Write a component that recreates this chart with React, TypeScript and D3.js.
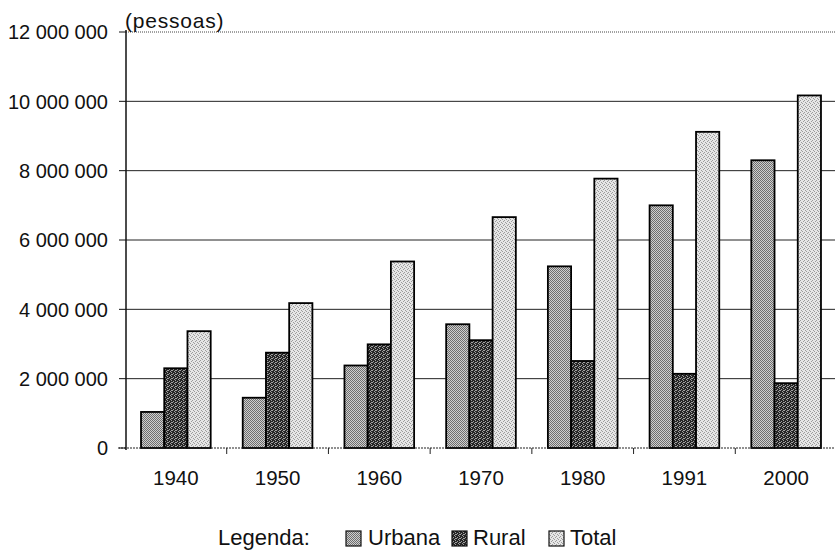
import React from "react";
import * as d3 from "d3";

const years = ["1940", "1950", "1960", "1970", "1980", "1991", "2000"];
const series = ["Urbana", "Rural", "Total"];
const urbana = [1040000, 1450000, 2380000, 3570000, 5240000, 7000000, 8300000];
const rural = [2300000, 2750000, 2990000, 3110000, 2510000, 2140000, 1870000];
const total = [3370000, 4180000, 5380000, 6660000, 7770000, 9120000, 10170000];
const yTicks = [0, 2000000, 4000000, 6000000, 8000000, 10000000, 12000000];

const W = 835;
const H = 551;
const FONT = "'Liberation Sans', Arial, Helvetica, sans-serif";

const fmt = (v: number) =>
  v === 0 ? "0" : d3.format(",")(v).replace(/,/g, " ");

// dot layouts for the dithered fills (4x4 cells)
const dotsU = [[0, 0], [2, 0], [1, 1], [3, 1], [0, 2], [2, 2], [1, 3], [3, 3]];
const dotsR = [[0, 0], [1, 0], [2, 0], [0, 1], [2, 1], [3, 1], [1, 2], [2, 2], [0, 3], [3, 3], [1, 3]];
const dotsT = [[0, 0], [3, 1], [1, 2], [2, 3]];

export default function App() {
  const x = d3.scaleBand<string>().domain(years).range([125, 837]).padding(0);
  const xs = d3
    .scaleBand<string>()
    .domain(series)
    .range([0, x.bandwidth()])
    .paddingInner(0)
    .paddingOuter(0.69);
  const y = d3.scaleLinear().domain([0, 12000000]).range([448, 32]);
  const values: Record<string, number[]> = {
    Urbana: urbana,
    Rural: rural,
    Total: total,
  };
  const fills: Record<string, string> = {
    Urbana: "url(#pU)",
    Rural: "url(#pR)",
    Total: "url(#pT)",
  };

  const legendItems = [
    { key: "Urbana", sq: 346, tx: 368 },
    { key: "Rural", sq: 452, tx: 473 },
    { key: "Total", sq: 549, tx: 570 },
  ];

  const pat = (id: string, bg: string, fg: string, dots: number[][]) => (
    <pattern id={id} width="4" height="4" patternUnits="userSpaceOnUse">
      <rect width="4" height="4" fill={bg} />
      {dots.map(([dx, dy], k) => (
        <rect key={k} x={dx} y={dy} width="1" height="1" fill={fg} />
      ))}
    </pattern>
  );

  return (
    <div style={{ position: "absolute", left: 0, top: 0 }}>
      <svg width={W} height={H} style={{ display: "block", background: "#fff" }}>
        <defs>
          {pat("pU", "#cfcfcf", "#6e6e6e", dotsU)}
          {pat("pR", "#a0a0a0", "#262626", dotsR)}
          {pat("pT", "#e6e6e6", "#9c9c9c", dotsT)}
        </defs>

        {/* gridlines */}
        {yTicks.slice(1).map((t) => (
          <line
            key={"g" + t}
            x1={126}
            x2={W}
            y1={y(t)}
            y2={y(t)}
            stroke={t === 12000000 ? "#444" : "#222"}
            strokeWidth={1}
            strokeDasharray={t === 12000000 ? "1 1" : undefined}
          />
        ))}

        {/* bars */}
        {years.map((yr, i) => (
          <g key={yr}>
            {series.map((s) => {
              const v = values[s][i];
              const bx = (x(yr) as number) + (xs(s) as number);
              return (
                <rect
                  key={s}
                  x={bx}
                  y={y(v)}
                  width={xs.bandwidth()}
                  height={y(0) - y(v)}
                  fill={fills[s]}
                  stroke="#000"
                  strokeWidth={1.8}
                />
              );
            })}
          </g>
        ))}

        {/* x axis */}
        <line x1={118} x2={W} y1={y(0)} y2={y(0)} stroke="#222" strokeWidth={1.2} strokeDasharray="2 1" />
        {years.slice(1).map((yr) => (
          <line
            key={"xt" + yr}
            x1={x(yr) as number}
            x2={x(yr) as number}
            y1={y(0)}
            y2={y(0) + 6}
            stroke="#222"
            strokeWidth={1}
          />
        ))}
        {years.map((yr) => (
          <text
            key={"xl" + yr}
            x={(x(yr) as number) + x.bandwidth() / 2}
            y={485}
            textAnchor="middle"
            fontFamily={FONT}
            fontSize={20.5}
            fill="#111"
          >
            {yr}
          </text>
        ))}

        {/* y axis */}
        <line x1={126} x2={126} y1={y(12000000) - 2} y2={y(0) + 2} stroke="#111" strokeWidth={1.5} />
        {yTicks.map((t) => (
          <g key={"yt" + t}>
            <line x1={119} x2={126} y1={y(t)} y2={y(t)} stroke="#111" strokeWidth={1} />
            <text
              x={108}
              y={y(t)}
              dy="0.36em"
              textAnchor="end"
              fontFamily={FONT}
              fontSize={20}
              fill="#111"
            >
              {fmt(t)}
            </text>
          </g>
        ))}
        <text x={125} y={28} fontFamily={FONT} fontSize={21} letterSpacing={0.8} fill="#111">
          (pessoas)
        </text>

        {/* legend */}
        <text x={218} y={545} fontFamily={FONT} fontSize={22} fill="#111">
          Legenda:
        </text>
        {legendItems.map((it) => (
          <g key={it.key}>
            <rect x={it.sq} y={531} width={15} height={15} fill={fills[it.key]} stroke="#111" strokeWidth={1.2} />
            <text x={it.tx} y={545} fontFamily={FONT} fontSize={22} fill="#111">
              {it.key}
            </text>
          </g>
        ))}
      </svg>
    </div>
  );
}
